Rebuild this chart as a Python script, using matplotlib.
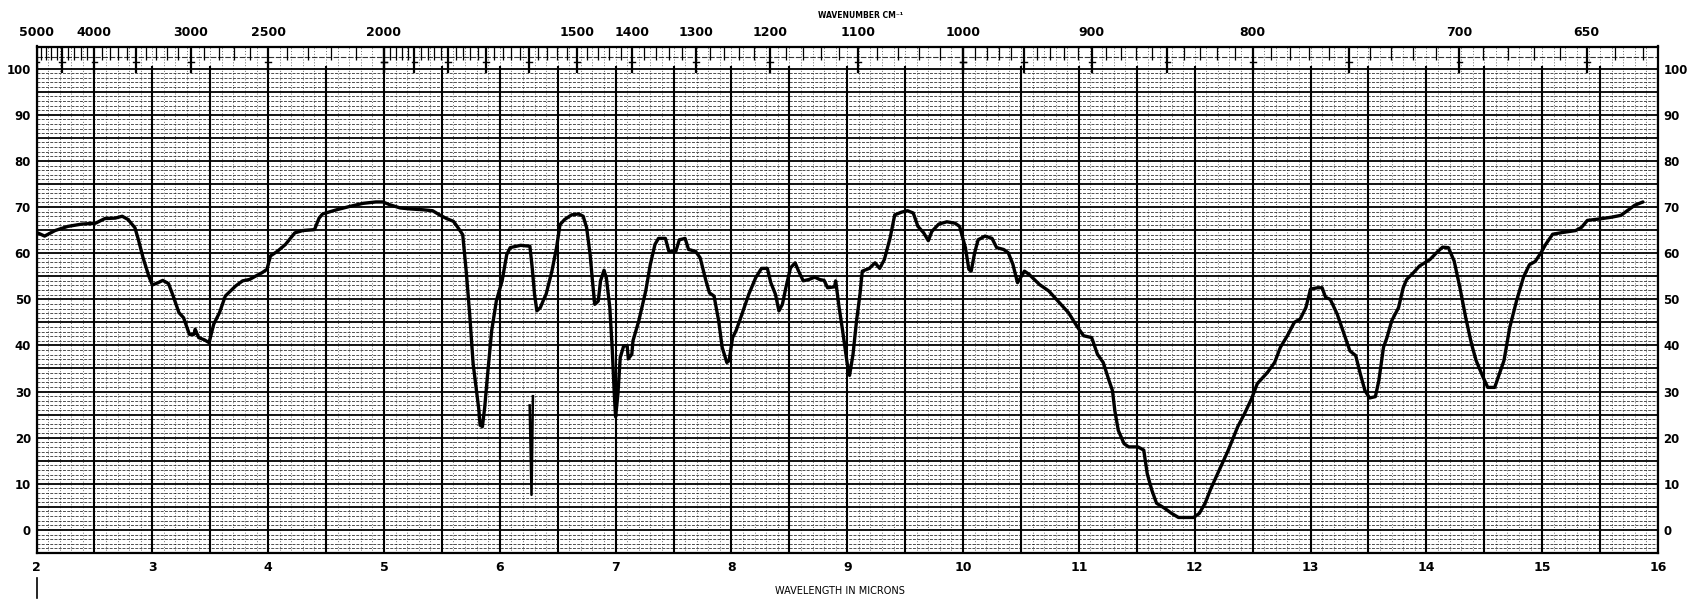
import numpy as np
import matplotlib
matplotlib.use("Agg")
import matplotlib.pyplot as plt

# ---------------- data ----------------
wavelength_um = [
    2.01, 2.07, 2.16, 2.27, 2.39, 2.51, 2.59, 2.68, 2.74, 2.79, 2.85, 2.88, 2.92, 2.97,
    3.00, 3.05, 3.09, 3.14, 3.18, 3.23, 3.27, 3.32, 3.36, 3.37, 3.40, 3.45, 3.49, 3.53,
    3.58, 3.63, 3.72, 3.78, 3.84, 3.89, 3.95, 3.99, 4.02, 4.08, 4.15, 4.23, 4.30, 4.40,
    4.44, 4.47, 4.59, 4.70, 4.82, 4.93, 4.99, 5.05, 5.14, 5.22, 5.34, 5.42, 5.48, 5.54,
    5.60, 5.64, 5.68, 5.71, 5.74, 5.77, 5.82, 5.83, 5.85, 5.87, 5.89, 5.93, 5.97, 6.02,
    6.06, 6.09, 6.18, 6.26, 6.28, 6.30, 6.32, 6.35, 6.38, 6.40, 6.45, 6.49, 6.52, 6.56,
    6.62, 6.68, 6.72, 6.75, 6.78, 6.80, 6.82, 6.85, 6.87, 6.90, 6.92, 6.95, 6.97, 6.99,
    7.00, 7.02, 7.04, 7.07, 7.10, 7.11, 7.14, 7.15, 7.20, 7.26, 7.30, 7.34, 7.37, 7.43,
    7.46, 7.52, 7.55, 7.60, 7.63, 7.69, 7.73, 7.78, 7.81, 7.85, 7.89, 7.92, 7.96, 7.98,
    8.01, 8.04, 8.08, 8.15, 8.21, 8.26, 8.31, 8.34, 8.38, 8.41, 8.44, 8.47, 8.51, 8.55,
    8.58, 8.62, 8.67, 8.72, 8.76, 8.80, 8.83, 8.89, 8.90, 8.93, 8.96, 9.00, 9.02, 9.05,
    9.08, 9.11, 9.13, 9.19, 9.24, 9.28, 9.32, 9.37, 9.41, 9.47, 9.52, 9.57, 9.61, 9.66,
    9.70, 9.73, 9.79, 9.86, 9.93, 9.97, 10.02, 10.05, 10.07, 10.10, 10.13, 10.19, 10.25,
    10.29, 10.35, 10.39, 10.43, 10.47, 10.53, 10.57, 10.66, 10.74, 10.83, 10.91, 10.99,
    11.04, 11.11, 11.16, 11.21, 11.26, 11.29, 11.31, 11.34, 11.39, 11.43, 11.51, 11.56,
    11.59, 11.63, 11.67, 11.74, 11.80, 11.86, 11.99, 12.04, 12.09, 12.14, 12.21, 12.29,
    12.37, 12.43, 12.49, 12.54, 12.63, 12.69, 12.74, 12.80, 12.86, 12.91, 12.96, 13.00,
    13.06, 13.10, 13.13, 13.17, 13.23, 13.29, 13.34, 13.39, 13.43, 13.47, 13.51, 13.56,
    13.59, 13.63, 13.66, 13.70, 13.76, 13.80, 13.83, 13.89, 13.94, 14.03, 14.10, 14.14,
    14.19, 14.24, 14.29, 14.34, 14.39, 14.43, 14.49, 14.53, 14.59, 14.63, 14.67, 14.72,
    14.78, 14.84, 14.89, 14.94, 14.99, 15.03, 15.09, 15.18, 15.29, 15.34, 15.39, 15.49,
    15.60, 15.68, 15.74, 15.80, 15.87,
]
transmittance_pct = [
    64.4, 63.7, 64.9, 65.8, 66.3, 66.5, 67.5, 67.6, 68.0, 67.3, 65.5, 62.9, 59.0, 55.0,
    53.1, 53.6, 54.1, 53.4, 50.7, 47.1, 46.0, 42.4, 42.4, 43.5, 41.7, 41.2, 40.6, 44.6,
    47.1, 50.7, 52.9, 54.0, 54.3, 55.0, 55.8, 56.5, 59.4, 60.4, 61.9, 64.4, 64.9, 65.1,
    67.6, 68.5, 69.4, 70.1, 70.8, 71.1, 71.1, 70.5, 69.8, 69.6, 69.4, 69.2, 68.3, 67.5,
    66.9, 65.5, 64.0, 56.1, 46.8, 36.0, 25.9, 22.7, 22.4, 26.6, 32.4, 43.2, 49.6, 54.0,
    59.7, 61.2, 61.7, 61.5, 56.8, 51.1, 47.5, 48.2, 50.0, 51.1, 56.1, 61.2, 66.2, 67.3,
    68.3, 68.5, 68.0, 65.5, 59.7, 54.0, 48.9, 49.6, 54.0, 56.3, 54.7, 48.2, 39.6, 28.8,
    24.5, 29.5, 37.4, 39.9, 39.9, 37.1, 38.1, 41.0, 45.3, 51.8, 57.6, 61.9, 63.2, 63.2,
    60.4, 60.4, 62.9, 63.2, 60.8, 60.4, 59.0, 54.0, 51.4, 50.7, 45.3, 39.6, 36.3, 36.7,
    41.7, 43.2, 46.0, 51.1, 54.7, 56.7, 56.7, 53.6, 51.1, 47.5, 48.9, 52.5, 56.8, 57.9,
    56.1, 54.0, 54.3, 54.8, 54.3, 54.1, 52.5, 52.7, 54.0, 48.2, 43.2, 36.0, 33.5, 38.1,
    45.3, 51.1, 56.1, 56.7, 57.9, 56.7, 58.6, 63.3, 68.3, 68.9, 69.2, 68.7, 65.8, 64.4,
    62.7, 64.7, 66.3, 66.8, 66.5, 65.8, 61.2, 56.5, 56.1, 60.1, 62.9, 63.7, 63.2,
    61.2, 60.8, 60.1, 57.6, 53.6, 56.1, 55.4, 53.2, 51.8, 49.3, 47.1, 43.9,
    42.1, 41.7, 38.1, 36.3, 32.4, 30.2, 25.9, 21.6, 18.7, 18.0, 18.0, 17.3,
    12.2, 8.6, 5.8, 4.7, 3.6, 2.7, 2.7, 3.6, 5.8, 9.0, 12.9, 17.3,
    22.3, 25.2, 28.4, 31.7, 34.2, 36.3, 39.6, 42.1, 45.0, 45.7, 48.2, 52.2,
    52.5, 52.5, 50.4, 50.0, 46.8, 42.4, 38.8, 37.8, 33.8, 30.2, 28.6, 28.9,
    32.4, 39.6, 41.7, 45.3, 48.2, 52.5, 54.3, 55.8, 57.2, 58.6, 60.4, 61.3,
    61.2, 58.3, 52.5, 46.0, 40.3, 36.7, 33.1, 30.9, 30.9, 33.8, 36.7, 43.9,
    49.8, 54.9, 57.5, 58.2, 60.1, 61.9, 64.1, 64.5, 64.9, 65.6, 67.1, 67.4,
    67.8, 68.2, 69.3, 70.4, 71.1,
]
# separate pen-marker stroke near 6.27 um
marker_um = [6.258, 6.274, 6.286]
marker_pct = [27.0, 7.6, 29.0]

micron_ticks = list(range(2, 17))
percent_ticks = list(range(0, 101, 10))
wavenumber_labels = [5000, 4000, 3000, 2500, 2000, 1500, 1400, 1300, 1200,
                     1100, 1000, 900, 800, 700, 650]

# ---------------- figure ----------------
W, H = 1688, 601
fig = plt.figure(figsize=(W / 100, H / 100), dpi=100)
fig.patch.set_facecolor("white")
L, R, T, B = 36.5, 1658, 46.5, 553
ax = fig.add_axes([L / W, 1 - B / H, (R - L) / W, (B - T) / H])
ax.set_xlim(2, 16)
ax.set_ylim(-5, 104.8)
ax.set_facecolor("white")

# chart-paper grid
for v in np.arange(-4, 101, 1):
    if v % 5 != 0:
        ax.axhline(v, color="black", lw=0.6, dashes=(3.5, 1.6), alpha=0.8, zorder=1)
for v in np.arange(-5, 101, 5):
    ax.axhline(v, color="black", lw=1.3, zorder=2)
for x in np.arange(2.0, 16.001, 0.1):
    ax.axvline(x, color="black", lw=0.6, dashes=(1.2, 2.2), alpha=0.65, zorder=1)
for x in np.arange(2.0, 16.001, 0.5):
    ax.axvline(x, ymax=(100.3 + 5) / 109.8, color="black", lw=1.5, zorder=2)
ax.axhline(102.6, color="black", lw=0.8, dashes=(5, 1.5), alpha=0.8, zorder=2)

# wavenumber tick marks hanging from the top edge
def wn_ticks(start, stop, step, long_every):
    out = []
    for wn in range(start, stop - 1, -step):
        out.append((10000.0 / wn, wn % long_every == 0))
    return out

ticks = (wn_ticks(5000, 2000, 100, 500) + wn_ticks(2000, 1000, 20, 100)
         + wn_ticks(1000, 625, 10, 50))
for x, is_long in ticks:
    if 2 <= x <= 16:
        y0 = 99.0 if is_long else 101.8
        ax.plot([x, x], [y0, 104.8], color="black", lw=1.6 if is_long else 0.9,
                zorder=3, solid_capstyle="butt")
        if is_long:
            ax.plot([x - 0.025, x + 0.025], [101.5, 101.5], color="black", lw=1.0, zorder=3)

for s in ax.spines.values():
    s.set_linewidth(1.6)
    s.set_color("black")
    s.set_zorder(5)

# spectrum trace
ax.plot(wavelength_um, transmittance_pct, color="black", lw=2.4, zorder=6,
        solid_joinstyle="round", solid_capstyle="round")
ax.plot(marker_um, marker_pct, color="black", lw=1.8, zorder=6)

# axis labels
ax.set_xticks(micron_ticks)
ax.set_xticklabels([str(m) for m in micron_ticks], fontsize=9, fontweight="bold")
ax.set_yticks(percent_ticks)
ax.set_yticklabels([str(p) for p in percent_ticks], fontsize=8.5, fontweight="bold")
ax.tick_params(axis="x", length=0, pad=6)
ax.tick_params(axis="y", length=0, pad=4, labelright=True)

for wn in wavenumber_labels:
    ax.text(10000.0 / wn, 1.028, str(wn), transform=ax.get_xaxis_transform(),
            ha="center", va="center", fontsize=9, fontweight="bold", clip_on=False)

fig.text(861 / W, 1 - 15 / H, "WAVENUMBER CM\u207b\u00b9", ha="center", va="center",
         fontsize=5.5, fontweight="bold")
fig.text(840 / W, 1 - 591 / H, "WAVELENGTH IN MICRONS", ha="center", va="center",
         fontsize=7)
# small scan mark at lower left
fig.add_artist(plt.Line2D([37 / W, 37 / W], [1 - 578 / H, 1 - 598 / H],
                          color="black", lw=1.2))

fig.savefig("out.png", dpi=100, facecolor="white")
